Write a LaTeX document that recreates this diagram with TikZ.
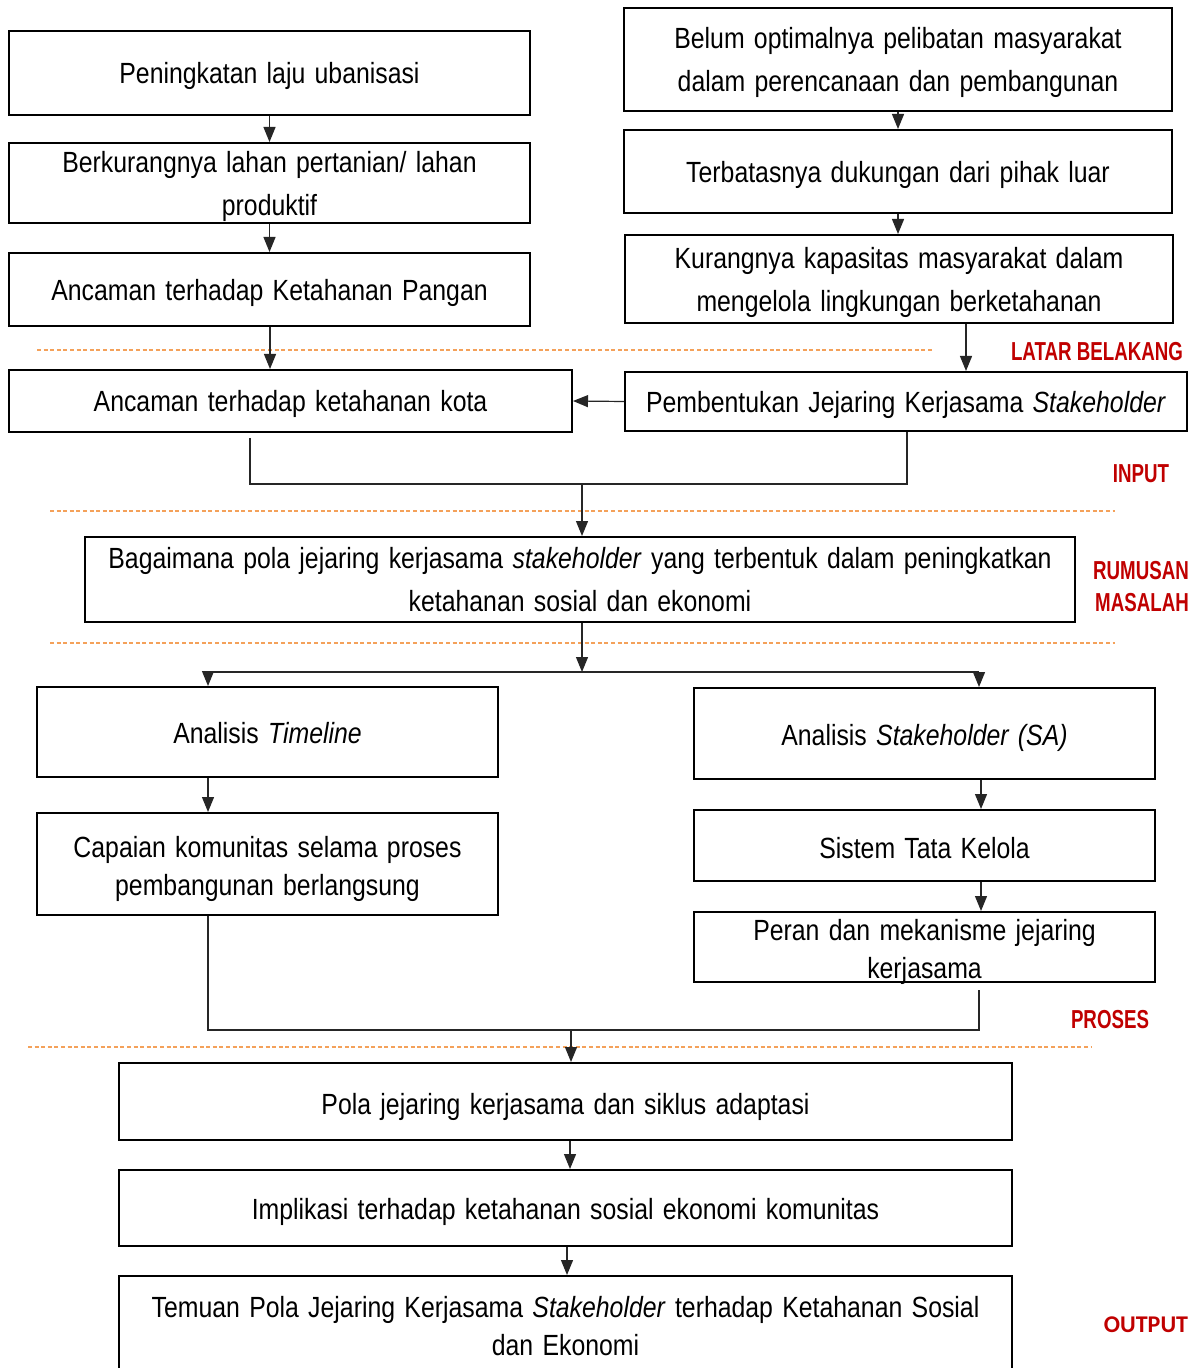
\documentclass[tikz,border=0pt]{standalone}
\usepackage{fontspec}
\setmainfont{Liberation Sans}[FakeStretch=0.85,WordSpace={1.35,1,1}]
\newfontfamily\lblfont{Liberation Sans}[FakeStretch=0.72]
\newfontfamily\outfont{Carlito}
\usetikzlibrary{arrows.meta,calc}
\definecolor{lblred}{HTML}{C00000}
\definecolor{dashorange}{HTML}{F4A15A}
\tikzset{
  box/.style={draw=black, line width=1pt, inner sep=0pt},
  txt/.style={inner sep=0pt, align=center, font=\fontsize{14.6}{21.5}\selectfont},
  tight/.style={font=\fontsize{14.6}{19}\selectfont},
  conn/.style={draw=black!85, line width=0.6pt},
  arr/.style={conn, -{Triangle[length=7.5pt,width=6pt]}},
  sep/.style={draw=dashorange, line width=0.6pt, dash pattern=on 2pt off 1.3pt},
  lbl/.style={text=lblred, font=\lblfont\bfseries\fontsize{13}{16}\selectfont, inner sep=0pt},
}
% \bx[text style]{name}{x1}{y1}{x2}{y2}{text}
\newcommand\bx[7][yshift=-1.5pt]{\node[box, minimum width={(#5-#3)*0.5pt}, minimum height={(#6-#4)*0.5pt},
  label={[txt,#1]center:{#7}}] (#2) at ({(#3+#5)/2},{(#4+#6)/2}) {};}
\begin{document}
\begin{tikzpicture}[x=0.5pt,y=-0.5pt]
\useasboundingbox (0,0) rectangle (1200,1368);
\clip (0,0) rectangle (1200,1368);
\fill[white] (0,0) rectangle (1200,1368);

% separators
\draw[sep] (37,350) -- (932,350);
\draw[sep] (50,511) -- (1115,511);
\draw[sep] (50,643) -- (1115,643);
\draw[sep] (28,1047) -- (1092,1047);

% left column
\bx{a1}{9}{31}{530}{115}{Peningkatan laju ubanisasi}
\bx{a2}{9}{143}{530}{223}{Berkurangnya lahan pertanian/ lahan\\produktif}
\bx{a3}{9}{253}{530}{326}{Ancaman terhadap Ketahanan Pangan}
\bx{a4}{9}{370}{572}{432}{Ancaman terhadap ketahanan kota}

% right column
\bx{b1}{624}{8}{1172}{111}{Belum optimalnya pelibatan masyarakat\\dalam perencanaan dan pembangunan}
\bx{b2}{624}{130}{1172}{213}{Terbatasnya dukungan dari pihak luar}
\bx{b3}{625}{235}{1173}{323}{Kurangnya kapasitas masyarakat dalam\\mengelola lingkungan berketahanan}
\bx{b4}{625}{372}{1187}{431}{Pembentukan Jejaring Kerjasama \textit{Stakeholder}}

% problem
\bx[yshift=0pt]{c}{85}{537}{1075}{622}{Bagaimana pola jejaring kerjasama \textit{stakeholder} yang terbentuk dalam peningkatkan\\ketahanan sosial dan ekonomi}

% process
\bx[yshift=-0.5pt]{d1}{37}{687}{498}{777}{Analisis \textit{Timeline}}
\bx[tight,yshift=-2.5pt]{d2}{37}{813}{498}{915}{Capaian komunitas selama proses\\pembangunan berlangsung}
\bx[yshift=-2pt]{e1}{694}{688}{1155}{779}{Analisis \textit{Stakeholder (SA)}}
\bx{e2}{694}{810}{1155}{881}{Sistem Tata Kelola}
\bx[tight,yshift=-2.5pt]{e3}{694}{912}{1155}{982}{Peran dan mekanisme jejaring\\kerjasama}

% output
\bx[yshift=-2.5pt]{f1}{119}{1063}{1012}{1140}{Pola jejaring kerjasama dan siklus adaptasi}
\bx[yshift=-2pt]{f2}{119}{1170}{1012}{1246}{Implikasi terhadap ketahanan sosial ekonomi komunitas}
\bx[tight,yshift=1pt]{f3}{119}{1276}{1012}{1380}{Temuan Pola Jejaring Kerjasama \textit{Stakeholder} terhadap Ketahanan Sosial\\dan Ekonomi}

% labels
\node[lbl] (l1) at (1097,352) {LATAR BELAKANG};
\node[lbl] (l2) at (1141,474) {INPUT};
\node[lbl] (l3) at (1141,571) {RUMUSAN};
\node[lbl] (l4) at (1142,603) {MASALAH};
\node[lbl] (l5) at (1110,1020) {PROSES};
\node[lbl, font=\outfont\bfseries\fontsize{12}{15}\selectfont] (l6) at (1146,1325) {OUTPUT};

% helper coordinates
\coordinate (x250) at (250,0);
\coordinate (x907) at (907,0);
\coordinate (x966) at (966,0);
\coordinate (x582) at (582,0);
\coordinate (x208) at (208,0);
\coordinate (x979) at (979,0);
\coordinate (x981) at (981,0);
\coordinate (x571) at (571,0);
\coordinate (x570) at (570,0);
\coordinate (x567) at (567,0);
\coordinate (x270) at (270,0);
\coordinate (y438) at (0,438);
\coordinate (y484) at (0,484);
\coordinate (y672) at (0,672);
\coordinate (y1030) at (0,1030);
\coordinate (y990) at (0,990);
\coordinate (j1) at (x582 |- y484);
\coordinate (j2) at (x582 |- y672);
\coordinate (j3) at (x571 |- y1030);

% connectors
\draw[arr] (a1.south) -- (a2.north);
\draw[arr] (a2.south) -- (a3.north);
\draw[arr] (a3.south -| x270) -- (a4.north -| x270);
\draw[arr] (b1.south) -- (b1.south |- b2.north);
\draw[arr] (b2.south) -- (b2.south |- b3.north);
\draw[arr] (b3.south -| x966) -- (b4.north -| x966);
\draw[arr] (b4.west) -- (a4.east);

\draw[conn] (x250 |- y438) |- (j1) -| (b4.south -| x907);
\draw[arr] (j1) -- (c.north -| j1);

\draw[arr] (c.south -| x582) -- (j2);
\draw[conn] (x208 |- y672) -- (x979 |- y672);
\draw[arr] (x208 |- y672) -- (d1.north -| x208);
\draw[arr] (x979 |- y672) -- (e1.north -| x979);
\draw[arr] (d1.south -| x208) -- (d2.north -| x208);
\draw[arr] (e1.south -| x981) -- (e2.north -| x981);
\draw[arr] (e2.south -| x981) -- (e3.north -| x981);

\draw[conn] (d2.south -| x208) |- (j3) -| (x979 |- y990);
\draw[arr] (j3) -- (f1.north -| j3);
\draw[arr] (f1.south -| x570) -- (f2.north -| x570);
\draw[arr] (f2.south -| x567) -- (f3.north -| x567);
\end{tikzpicture}
\end{document}
